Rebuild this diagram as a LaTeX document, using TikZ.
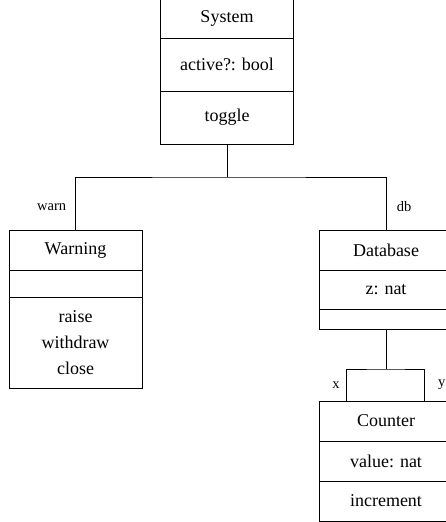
\documentclass[tikz,border=0pt]{standalone}
\usepackage{fontspec}
\setmainfont{Liberation Serif}
\usetikzlibrary{positioning}
\tikzset{
  part/.style={draw,minimum width=133pt,inner sep=0pt,outer sep=0pt,align=center,font=\fontsize{18}{25.7}\selectfont},
  role/.style={font=\fontsize{14.5}{16}\selectfont}
}
\begin{document}
\begin{tikzpicture}[x=1pt,y=-1pt,line width=0.8pt]
\useasboundingbox (0,0) rectangle (446,522);
%System
\node[part,minimum height=40pt](sysname) at (227,18){System};
\node[part,minimum height=53pt,below=0pt of sysname](sysattr){active?: bool};
\node[part,minimum height=53pt,below=0pt of sysattr](sysops){toggle};
%Warning
\node[part,minimum height=40pt](warnname) at (75.5,250){Warning};
\node[part,minimum height=27pt,below=0pt of warnname](warnattr){};
\node[part,minimum height=91pt,below=0pt of warnattr](warnops){raise\\withdraw\\close};
%Database
\node[part,minimum height=40pt](dbname) at (386,250){Database};
\node[part,minimum height=39pt,below=0pt of dbname](dbattr){z: nat};
\node[part,minimum height=20pt,below=0pt of dbattr](dbops){};
%Counter
\node[part,minimum height=40pt](cntname) at (386,421){Counter};
\node[part,minimum height=40pt,below=0pt of cntname](cntattr){value: nat};
\node[part,minimum height=40pt,below=0pt of cntattr](cntops){increment};
%links
\draw (sysops.south)--++(0,33)coordinate(fork);
\draw (warnname.north)|-(fork)-|(dbname.north);
\draw (dbops.south)--++(0,40)coordinate(join);
\coordinate (xend) at ([xshift=27pt]cntname.north west);
\coordinate (yend) at ([xshift=-28pt]cntname.north east);
\draw (xend)|-(join)-|(yend);
%roles
\node[role](warnlbl) at (51.7,207){warn};
\node[role](dblbl) at (404,207){db};
\node[role](xlbl) at (336,385){x};
\node[role](ylbl) at (441.7,385){y};
\end{tikzpicture}
\end{document}
